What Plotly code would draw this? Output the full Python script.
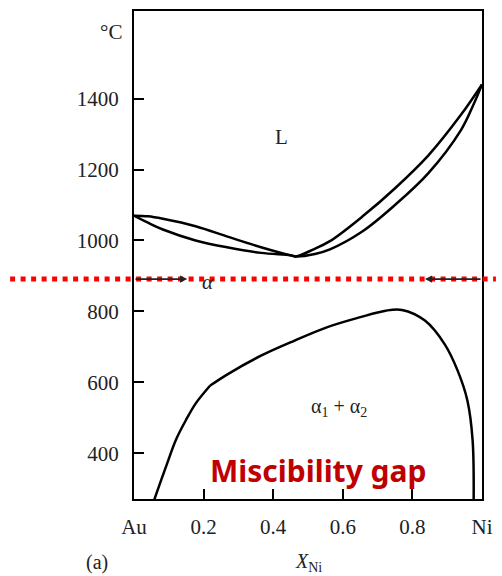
import plotly.graph_objects as go

# ---- data ----
liq_x = [0.0, 0.04, 0.083, 0.177, 0.271, 0.365, 0.45, 0.465, 0.516, 0.563, 0.657, 0.751, 0.846, 0.94, 1.0]
liq_t = [1070, 1068, 1061, 1040, 1010, 981, 958, 955, 975, 998, 1068, 1148, 1240, 1355, 1440]

sol_x = [0.0, 0.04, 0.083, 0.177, 0.271, 0.365, 0.45, 0.465, 0.52, 0.563, 0.657, 0.751, 0.846, 0.94, 0.975, 1.0]
sol_t = [1070, 1050, 1031, 1000, 980, 965, 958, 955, 962, 975, 1026, 1101, 1190, 1312, 1382, 1440]

gap1_x = [0.055, 0.078, 0.102, 0.12, 0.149, 0.177, 0.219]
gap1_t = [260, 324, 390, 437, 493, 540, 591]
gap2_x = [0.219, 0.271, 0.365, 0.46, 0.554, 0.648, 0.723, 0.77, 0.836, 0.893, 0.93, 0.958, 0.973, 0.976]
gap2_t = [591, 624, 675, 717, 755, 783, 802, 804, 774, 707, 633, 549, 437, 260]

x_ticks = [0, 0.2, 0.4, 0.6, 0.8, 1.0]
x_ticktext = ["Au", "0.2", "0.4", "0.6", "0.8", "Ni"]
y_ticks = [400, 600, 800, 1000, 1200, 1400]

t_line = 891          # red dotted isotherm
arrow_left_tip = 0.153
arrow_right_tip = 0.836

SERIF = "Liberation Serif"
line_style = dict(color="black", width=2.5, shape="spline", smoothing=1.0)

fig = go.Figure()
for xs, ts in [(liq_x, liq_t), (sol_x, sol_t), (gap1_x, gap1_t), (gap2_x, gap2_t)]:
    fig.add_trace(go.Scatter(x=xs, y=ts, mode="lines", line=line_style,
                             hoverinfo="skip", showlegend=False))

axis_common = dict(showline=True, linecolor="black", linewidth=2, mirror=True,
                   ticks="inside", ticklen=10, tickwidth=2, tickcolor="black",
                   showgrid=False, zeroline=False,
                   tickfont=dict(family=SERIF, size=21, color="#222"))

fig.update_xaxes(range=[0, 1], tickvals=x_ticks, ticktext=x_ticktext,
                 ticklabelstandoff=8, **axis_common)
fig.update_yaxes(range=[271, 1647], tickvals=y_ticks,
                 ticklabelstandoff=9, **axis_common)

ann = []
ann.append(dict(text="°C", xref="paper", x=0, xanchor="right", xshift=-10,
                yref="y", y=1588, yanchor="middle", showarrow=False,
                font=dict(family=SERIF, size=21, color="#222")))
ann.append(dict(text="L", x=0.424, y=1293, showarrow=False,
                font=dict(family=SERIF, size=21, color="#222")))
ann.append(dict(text="<i>α</i>", x=0.212, y=884, showarrow=False,
                font=dict(family=SERIF, size=21, color="#222")))
ann.append(dict(text="α<sub>1</sub> + α<sub>2</sub>", x=0.59, y=529, showarrow=False,
                font=dict(family=SERIF, size=20, color="#222")))
ann.append(dict(text="<b>Miscibility gap</b>", x=0.528, y=352, showarrow=False,
                font=dict(family="Noto Sans", size=30, color="#C00000")))
ann.append(dict(text="(a)", xref="paper", yref="paper", x=-0.105, y=-0.131,
                xanchor="center", yanchor="middle", borderpad=0,
                showarrow=False, font=dict(family=SERIF, size=20, color="#222")))
ann.append(dict(text="<i>X</i><sub>Ni</sub>", xref="paper", yref="paper", x=0.5, y=-0.131,
                xanchor="center", yanchor="middle", borderpad=0,
                showarrow=False, font=dict(family=SERIF, size=20, color="#222")))
ann.append(dict(text="", x=arrow_left_tip, y=t_line, ax=0, ay=t_line,
                axref="x", ayref="y", showarrow=True, arrowhead=2,
                arrowsize=0.9, arrowwidth=1.6, arrowcolor="#222"))
ann.append(dict(text="", x=arrow_right_tip, y=t_line, ax=1, ay=t_line,
                axref="x", ayref="y", showarrow=True, arrowhead=2,
                arrowsize=0.9, arrowwidth=1.6, arrowcolor="#222"))

fig.update_layout(
    width=502, height=576,
    margin=dict(l=134, r=14, t=9, b=77),
    paper_bgcolor="white", plot_bgcolor="white",
    annotations=ann,
    shapes=[dict(type="line", xref="paper", yref="y",
                 x0=-0.356, x1=1.04, y0=t_line, y1=t_line,
                 line=dict(color="#FF0000", width=5, dash="5px,5.5px"))],
)

fig.write_html("out.html")
